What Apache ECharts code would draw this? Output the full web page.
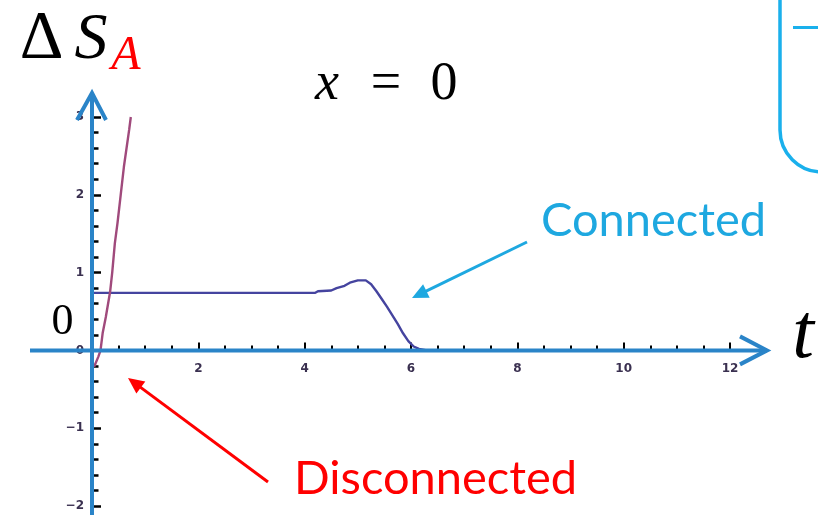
<!DOCTYPE html>
<html>
<head>
<meta charset="utf-8">
<script src="https://cdn.jsdelivr.net/npm/echarts@6/dist/echarts.min.js"></script>
<style>
  html, body { margin: 0; padding: 0; background: #ffffff; }
  #chart { width: 818px; height: 515px; }
</style>
</head>
<body>
<div id="chart"></div>
<script>
// Entropy change ΔS_A at x = 0 versus time t
const connectedT = [0, 4.2, 4.25, 4.5, 4.6, 4.75, 4.85, 5.0, 5.15, 5.25, 5.35, 5.45, 5.55, 5.65, 5.75, 5.85, 5.95, 6.05, 6.15, 6.3];
const connectedS = [0.74, 0.74, 0.76, 0.77, 0.80, 0.83, 0.87, 0.90, 0.90, 0.85, 0.76, 0.66, 0.56, 0.45, 0.34, 0.22, 0.12, 0.05, 0.02, 0.0];

const disconnectedT = [0.04, 0.12, 0.16, 0.20, 0.26, 0.34, 0.38, 0.43, 0.48, 0.54, 0.60, 0.70, 0.73];
const disconnectedS = [-0.21, -0.08, 0.0, 0.22, 0.43, 0.75, 1.0, 1.38, 1.64, 2.0, 2.36, 2.84, 3.0];

const tRange = [0, 12];
const sRange = [-2, 3];

const pairs = (xs, ys) => xs.map((x, i) => [x, ys[i]]);

const tickLabelStyle = {
  fontSize: 12,
  fontWeight: 'bold',
  fontFamily: 'DejaVu Sans',
  color: '#3a3050'
};

const chart = echarts.init(document.getElementById('chart'), null, { renderer: 'canvas' });

chart.setOption({
  animation: false,
  backgroundColor: '#ffffff',
  grid: { left: 92, right: 88, top: 117, bottom: 9, outerBoundsMode: 'none' },
  xAxis: {
    type: 'value',
    min: tRange[0], max: tRange[1], interval: 2,
    offset: 0,
    axisLine: { onZero: false, lineStyle: { color: '#000000', width: 1 } },
    axisTick: { inside: true, length: 8, lineStyle: { color: '#000000', width: 2 } },
    minorTick: { show: true, splitNumber: 4, length: 5, lineStyle: { color: '#000000', width: 2 } },
    splitLine: { show: false },
    axisLabel: Object.assign({ margin: 12, formatter: v => (v === 0 ? '' : String(v)) }, tickLabelStyle)
  },
  yAxis: {
    type: 'value',
    min: sRange[0], max: sRange[1], interval: 1,
    axisLine: { onZero: true, lineStyle: { color: '#000000', width: 1 } },
    axisTick: { inside: true, length: 9, lineStyle: { color: '#000000', width: 2.5 } },
    minorTick: { show: true, splitNumber: 5, length: 6.5, lineStyle: { color: '#000000', width: 2.5 } },
    splitLine: { show: false },
    axisLabel: Object.assign({ margin: 8, formatter: v => (v < 0 ? '\u2212' + Math.abs(v) : String(v)) }, tickLabelStyle)
  },
  series: [
    {
      name: 'Connected',
      type: 'line',
      data: pairs(connectedT, connectedS),
      showSymbol: false,
      lineStyle: { color: '#45449f', width: 2.4 },
      z: 3
    },
    {
      name: 'Disconnected',
      type: 'line',
      data: pairs(disconnectedT, disconnectedS),
      showSymbol: false,
      lineStyle: { color: '#a04a7c', width: 2.4 },
      z: 3
    }
  ]
});

// Lift the t axis (line, ticks and labels) from the grid bottom to S = 0
const origin = chart.convertToPixel({ gridIndex: 0 }, [0, 0]);
const bottomY = chart.convertToPixel({ gridIndex: 0 }, [0, sRange[0]])[1];
const ox = origin[0], oy = origin[1];
chart.setOption({ xAxis: { offset: -(bottomY - oy) } });

// Overlay: blue coordinate arrows, annotations and labels
const axisBlue = '#2a84c8';

function arrowHead(x1, y1, x2, y2, len, half, color) {
  const dx = x2 - x1, dy = y2 - y1;
  const d = Math.hypot(dx, dy);
  const ux = dx / d, uy = dy / d;
  const bx = x2 - ux * len, by = y2 - uy * len;
  return {
    type: 'polygon', z: 100,
    shape: { points: [[x2, y2], [bx - uy * half, by + ux * half], [bx + uy * half, by - ux * half]] },
    style: { fill: color }
  };
}
function arrowShaft(x1, y1, x2, y2, len, color) {
  const dx = x2 - x1, dy = y2 - y1;
  const d = Math.hypot(dx, dy);
  return {
    type: 'line', z: 100,
    shape: { x1: x1, y1: y1, x2: x2 - dx / d * (len - 2), y2: y2 - dy / d * (len - 2) },
    style: { stroke: color, lineWidth: 3 }
  };
}

// text placed by its baseline; k is the font's top-to-baseline ratio
const serif = 'Liberation Serif';
function label(text, cx, baseline, size, opts) {
  const k = opts.family === 'Lato' ? 0.85 : 0.83;
  return {
    type: 'text', z: 100,
    style: {
      text: text, x: cx, y: baseline - k * size,
      fontSize: size, fontFamily: opts.family || serif,
      fontStyle: opts.italic ? 'italic' : 'normal',
      fill: opts.color || '#000000',
      align: opts.align || 'center', verticalAlign: 'top'
    }
  };
}

const graphics = [
  // horizontal blue axis with open arrowhead
  { type: 'line', z: 90, shape: { x1: 30, y1: oy, x2: 767, y2: oy }, style: { stroke: axisBlue, lineWidth: 4 } },
  { type: 'polyline', z: 90, shape: { points: [[740, oy - 14], [767, oy], [740, oy + 14]] }, style: { stroke: axisBlue, lineWidth: 4, fill: null } },
  // vertical blue axis with open arrowhead
  { type: 'line', z: 90, shape: { x1: ox, y1: 520, x2: ox, y2: 93 }, style: { stroke: axisBlue, lineWidth: 4 } },
  { type: 'polyline', z: 90, shape: { points: [[ox - 15, 120], [ox, 93], [ox + 14, 120]] }, style: { stroke: axisBlue, lineWidth: 4, fill: null } },

  // rounded box at the top right
  { type: 'rect', z: 90, shape: { x: 780, y: -80, width: 90, height: 252, r: 42 }, style: { stroke: '#1ab0ec', lineWidth: 3.5, fill: null } },
  { type: 'line', z: 90, shape: { x1: 793, y1: 27.5, x2: 820, y2: 27.5 }, style: { stroke: '#1ab0ec', lineWidth: 3 } },

  // Connected annotation
  arrowShaft(527, 242, 412, 298, 16, '#1ea8e0'),
  arrowHead(527, 242, 412, 298, 16, 7.5, '#1ea8e0'),
  label('Connected', 541, 237, 47, { family: 'Lato', color: '#1ea8e0', align: 'left' }),

  // Disconnected annotation
  arrowShaft(268, 482, 128, 378, 16, '#ff0000'),
  arrowHead(268, 482, 128, 378, 16, 7.5, '#ff0000'),
  label('Disconnected', 294, 495, 47, { family: 'Lato', color: '#ff0000', align: 'left' }),

  // x = 0
  label('x', 327, 103, 54, { italic: true }),
  label('=', 386, 103, 54, {}),
  label('0', 444, 103, 54, {}),

  // axis titles
  label('\u0394', 41.5, 62, 68, {}),
  label('S', 91, 62, 66, { italic: true }),
  label('A', 126, 72, 48, { italic: true, color: '#ff0000' }),
  label('0', 62.5, 337, 44, {}),
  label('t', 803, 362, 78, { italic: true })
];

chart.setOption({ graphic: graphics });
</script>
</body>
</html>
